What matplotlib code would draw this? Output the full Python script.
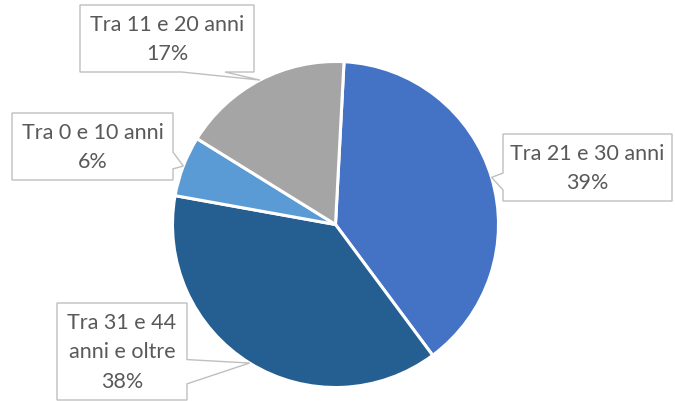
import numpy as np
import matplotlib
matplotlib.use("Agg")
import matplotlib.pyplot as plt
from matplotlib.patches import Polygon

# data: slices drawn clockwise from the top
categories = ["Tra 21 e 30 anni", "Tra 31 e 44\nanni e oltre", "Tra 0 e 10 anni", "Tra 11 e 20 anni"]
shares = [39, 38, 6, 17]
colors = ["#4472C4", "#255E91", "#5B9BD5", "#A5A5A5"]

W, H = 675, 401
# pie geometry in pixels (y measured from top)
cx, cy, radius = 335.5, 224.5, 163
start_deg = 3.0  # first slice starts a bit right of 12 o'clock

# label boxes in pixels: x0, y0, x1, y1 (y from top)
boxes = [(503, 134, 672, 201),
         (57, 303, 187, 400),
         (12, 113, 173, 180),
         (80, 5, 254, 72)]

plt.rcParams["font.family"] = ["Lato", "DejaVu Sans"]

fig = plt.figure(figsize=(W / 100, H / 100), dpi=100)
ax = fig.add_axes([0, 0, 1, 1])

ax.pie(shares, colors=colors, startangle=90 - start_deg, counterclock=False,
       center=(cx, H - cy), radius=radius,
       wedgeprops=dict(edgecolor="white", linewidth=2.2))
ax.set_xlim(0, W)
ax.set_ylim(0, H)
ax.set_aspect("equal")
ax.axis("off")


def callout(box, tip):
    """wedge rectangle callout, pixel coords with y from top"""
    x0, y0, x1, y1 = box
    w, h = x1 - x0, y1 - y0
    mx, my = (x0 + x1) / 2, (y0 + y1) / 2
    dx, dy = tip[0] - mx, tip[1] - my
    if abs(dx) / w > abs(dy) / h:
        a, b = (7 / 12, 5 / 6) if dy > 0 else (1 / 6, 5 / 12)
        ya, yb = y0 + a * h, y0 + b * h
        if dx > 0:
            pts = [(x0, y0), (x1, y0), (x1, ya), tip, (x1, yb), (x1, y1), (x0, y1)]
        else:
            pts = [(x0, y0), (x1, y0), (x1, y1), (x0, y1), (x0, yb), tip, (x0, ya)]
    else:
        a, b = (7 / 12, 5 / 6) if dx > 0 else (1 / 6, 5 / 12)
        xa, xb = x0 + a * w, x0 + b * w
        if dy > 0:
            pts = [(x0, y0), (x1, y0), (x1, y1), (xb, y1), tip, (xa, y1), (x0, y1)]
        else:
            pts = [(x0, y0), (xa, y0), tip, (xb, y0), (x1, y0), (x1, y1), (x0, y1)]
    return [(px, H - py) for px, py in pts]


total = sum(shares)
edges = start_deg + 360 * np.cumsum([0] + shares) / total
for i, (cat, val) in enumerate(zip(categories, shares)):
    mid = np.radians((edges[i] + edges[i + 1]) / 2)
    tip = (cx + radius * np.sin(mid), cy - radius * np.cos(mid))
    ax.add_patch(Polygon(callout(boxes[i], tip), closed=True, facecolor="white",
                         edgecolor="#BFBFBF", linewidth=1.0, zorder=3))
    x0, y0, x1, y1 = boxes[i]
    ax.text((x0 + x1) / 2, H - (y0 + y1) / 2 - 1, f"{cat}\n{val}%", ha="center",
            va="center", fontsize=15.5, color="#595959", linespacing=1.62, zorder=4)

fig.savefig("out.png", dpi=100)
